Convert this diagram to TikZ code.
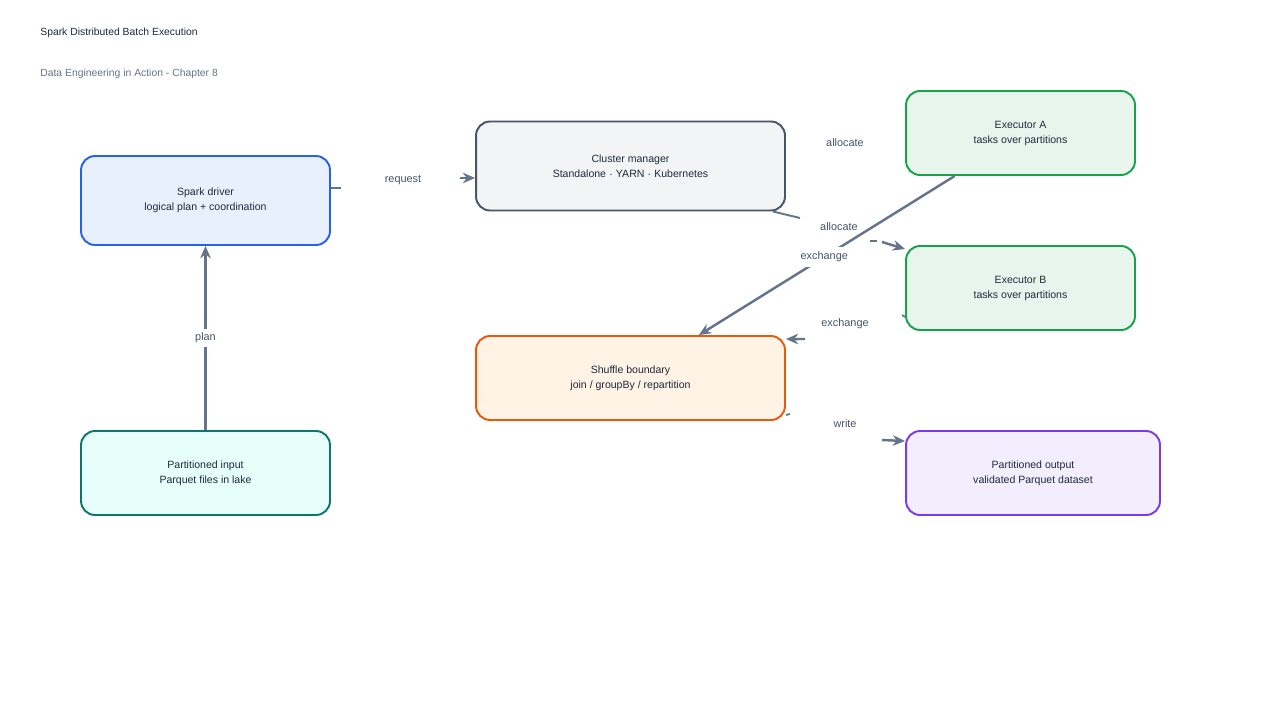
\documentclass[tikz,border=0pt]{standalone}
\usepackage{fontspec}
\setmainfont{Liberation Sans}
\usetikzlibrary{positioning, arrows.meta, calc}
\definecolor{InkDark}{HTML}{1E293B}
\definecolor{InkGray}{HTML}{64748B}
\definecolor{EdgeGray}{HTML}{64748B}
\definecolor{DrvBlue}{HTML}{2563EB}
\definecolor{DrvFill}{HTML}{E8F0FE}
\definecolor{InTeal}{HTML}{0F766E}
\definecolor{InFill}{HTML}{E6FFFA}
\definecolor{CmSlate}{HTML}{475569}
\definecolor{CmFill}{HTML}{F3F4F6}
\definecolor{ShOrange}{HTML}{EA580C}
\definecolor{ShFill}{HTML}{FFF3E6}
\definecolor{ExGreen}{HTML}{16A34A}
\definecolor{ExFill}{HTML}{E8F5EC}
\definecolor{OutViolet}{HTML}{7C3AED}
\definecolor{OutFill}{HTML}{F3EEFE}

\begin{document}
\begin{tikzpicture}[x=0.02cm, y=-0.02cm,
          box/.style={rectangle, rounded corners=0.28cm, line width=1.1pt,
                      align=center, text=InkDark,
                      font=\fontsize{6}{8.5}\selectfont},
          edge/.style={EdgeGray, line width=1.4pt},
          arr/.style={edge, -{Stealth[length=7pt, width=6pt]}},
          lbl/.style={font=\fontsize{6.2}{7}\selectfont, text=CmSlate,
                      fill=white, inner sep=2pt}
        ]
        \useasboundingbox (0,0) rectangle (1280,720);
        % Heading
        \node[anchor=west, inner sep=0pt, font=\fontsize{5.9}{7}\selectfont, text=InkDark]
              (title) at (40,33) {Spark Distributed Batch Execution};
        \node[anchor=west, inner sep=0pt, font=\fontsize{5.9}{7}\selectfont, text=InkGray]
              (subtitle) at (40,74) {Data Engineering in Action - Chapter 8};

        % Boxes
        \node[box, draw=DrvBlue, fill=DrvFill,
              minimum width=4.98cm, minimum height=1.78cm]
              (driver) at (205.5,200.5) {Spark driver\\logical plan + coordination};
        \node[box, draw=InTeal, fill=InFill,
              minimum width=4.98cm, minimum height=1.68cm]
              (input) at (205.5,473) {Partitioned input\\Parquet files in lake};
        \node[box, draw=CmSlate, fill=CmFill,
              minimum width=6.18cm, minimum height=1.78cm]
              (cluster) at (630.5,166) {Cluster manager\\Standalone $\cdot$ YARN $\cdot$ Kubernetes};
        \node[box, draw=ShOrange, fill=ShFill,
              minimum width=6.18cm, minimum height=1.68cm]
              (shuffle) at (630.5,378) {Shuffle boundary\\join / groupBy / repartition};
        \foreach \n/\y in {A/133, B/288} {
          \node[box, draw=ExGreen, fill=ExFill,
                minimum width=4.58cm, minimum height=1.68cm]
                (exec\n) at (1020.5,\y) {Executor \n\\tasks over partitions};
        }
        \node[box, draw=OutViolet, fill=OutFill,
              minimum width=5.08cm, minimum height=1.68cm]
              (output) at (1033,473) {Partitioned output\\validated Parquet dataset};

        % plan
        \draw[arr] (input) -- node[lbl] {plan} (driver);

        % request
        \coordinate (rqA) at (341,188);
        \coordinate (rqB) at (460,178);
        \draw[edge] (driver.east |- rqA) -- (rqA);
        \draw[arr] (rqB) -- (cluster.west |- rqB);
        \node[lbl] (lreq) at (403,180) {request};

        % allocate
        \node[lbl] (lalA) at (845,143) {allocate};
        \node[lbl] (lalB) at (839,227) {allocate};
        \coordinate (alA) at (800,218);
        \coordinate (alB) at (882,242);
        \coordinate (alC) at (870,241);
        \coordinate (alD) at (877,241);
        \draw[edge, line width=1.1pt] ($(cluster.south east)+(-13,0)$) -- (alA);
        \draw[edge, line width=1pt] (alC) -- (alD);
        \draw[arr] (alB) -- ($(execB.north west)+(0,4)$);

        % exchange
        \draw[arr] ($(execA.south west)!0.215!(execA.south east)$)
              -- node[lbl, pos=0.51, inner sep=3pt] (lexA) {exchange}
              ($(shuffle.north west)!0.72!(shuffle.north east)$);
        \coordinate (exB) at (805,339);
        \coordinate (exC) at (902,315);
        \draw[edge, line width=1pt] ($(execB.south west)+(0,-14)$) -- (exC);
        \draw[arr] (exB) -- ($(shuffle.north east)+(0,4)$);
        \node[lbl] (lexB) at (845,324) {exchange};

        % write
        \coordinate (wrA) at (790,414);
        \coordinate (wrB) at (882,440);
        \draw[edge, line width=1pt] ($(shuffle.south east)+(0,-6)$) -- (wrA);
        \draw[arr] (wrB) -- ($(output.north west)+(0,11)$);
        \node[lbl] (lwr) at (845,424) {write};
      \end{tikzpicture}
\end{document}
